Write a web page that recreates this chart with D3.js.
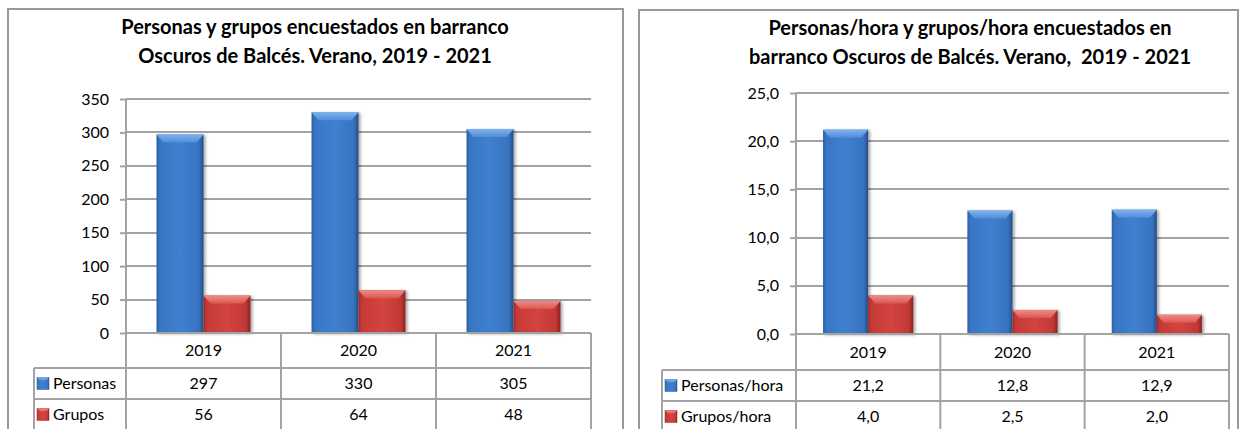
<!DOCTYPE html>
<html>
<head>
<meta charset="utf-8">
<script src="https://cdn.jsdelivr.net/npm/d3@7"></script>
<style>
  body { margin: 0; background: #fff; }
  svg { display: block; font-family: Lato, "Open Sans", sans-serif; }
</style>
</head>
<body>
<div id="chart"></div>
<script>
const years = ["2019", "2020", "2021"];
const personas = [297, 330, 305];
const grupos = [56, 64, 48];
const personasHora = [21.2, 12.8, 12.9];
const gruposHora = [4.0, 2.5, 2.0];
const ticksLeft = [0, 50, 100, 150, 200, 250, 300, 350];
const ticksRight = [0, 5, 10, 15, 20, 25];
const titleLeft = ["Personas y grupos encuestados en barranco", "Oscuros de Balcés. Verano, 2019 - 2021"];
const titleRight = ["Personas/hora y grupos/hora encuestados en", "barranco Oscuros de Balcés. Verano,  2019 - 2021"];
const namesLeft = ["Personas", "Grupos"];
const namesRight = ["Personas/hora", "Grupos/hora"];

const W = 1242, H = 429;
const gridColor = "#a3a3a3";

const svg = d3.select("#chart").append("svg")
  .attr("width", W)
  .attr("height", H);

const defs = svg.append("defs");

function barGradient(id, stops) {
  const g = defs.append("linearGradient").attr("id", id)
    .attr("x1", 0).attr("x2", 1).attr("y1", 0).attr("y2", 0);
  stops.forEach(s => g.append("stop").attr("offset", s[0]).attr("stop-color", s[1]));
}
function bevelGradient(id, c1, c2) {
  const g = defs.append("linearGradient").attr("id", id)
    .attr("x1", 0).attr("x2", 0).attr("y1", 0).attr("y2", 1);
  g.append("stop").attr("offset", 0).attr("stop-color", c1);
  g.append("stop").attr("offset", 1).attr("stop-color", c2);
}
barGradient("blueBar", [[0, "#2b5fa4"], [0.07, "#3876c2"], [0.5, "#3f80d0"], [0.9, "#3873bf"], [1, "#244d86"]]);
barGradient("redBar", [[0, "#9f2a28"], [0.07, "#c43a37"], [0.5, "#d44440"], [0.9, "#c23835"], [1, "#8c2222"]]);
bevelGradient("blueTop", "#7fb3ee", "#4f8dd8");
bevelGradient("redTop", "#ee8c86", "#dc5652");

const shadow = defs.append("filter").attr("id", "shadow")
  .attr("x", "-20%").attr("y", "-10%").attr("width", "150%").attr("height", "130%");
shadow.append("feDropShadow")
  .attr("dx", 2).attr("dy", 1).attr("stdDeviation", 1.5)
  .attr("flood-color", "#000").attr("flood-opacity", 0.35);

const seriesStyle = [
  { fill: "url(#blueBar)", top: "url(#blueTop)", edge: "#2b5fa4" },
  { fill: "url(#redBar)", top: "url(#redTop)", edge: "#9f2a28" }
];

function drawChart(cfg) {
  const g = svg.append("g");

  // frame
  g.append("rect")
    .attr("x", cfg.frame[0]).attr("y", cfg.frame[1])
    .attr("width", cfg.frame[2]).attr("height", cfg.frame[3])
    .attr("fill", "none").attr("stroke", "#999").attr("stroke-width", 2);

  // title
  const title = g.append("text")
    .attr("x", cfg.titleX).attr("y", cfg.titleY)
    .attr("text-anchor", "middle")
    .style("white-space", "pre")
    .style("font-weight", "bold").style("font-size", cfg.titleSize + "px").attr("fill", "#000");
  title.selectAll("tspan").data(cfg.title).enter().append("tspan")
    .attr("x", cfg.titleX).attr("dy", (d, i) => i == 0 ? 0 : 29)
    .text(d => d);

  const y = d3.scaleLinear().domain(cfg.yDomain).range([cfg.bottom, cfg.top]);
  const x0 = d3.scaleBand().domain(years).range([cfg.left, cfg.right]);
  const x1 = d3.scaleBand().domain([0, 1]).range([0, x0.bandwidth()]).paddingOuter(cfg.barPad);

  // gridlines + y axis
  const yAxis = d3.axisLeft(y).tickValues(cfg.ticks).tickSize(6).tickPadding(11)
    .tickFormat(cfg.fmt);
  const ax = g.append("g").attr("transform", `translate(${cfg.left},0)`).call(yAxis);
  ax.select(".domain").remove();
  ax.selectAll("line").attr("stroke", gridColor).attr("stroke-width", 2);
  ax.selectAll("text").style("font-size", "16px").style("font-family", "Lato").attr("fill", "#000");

  g.selectAll(".grid").data(cfg.ticks).enter().append("line")
    .attr("x1", cfg.left).attr("x2", cfg.right)
    .attr("y1", d => Math.round(y(d))).attr("y2", d => Math.round(y(d)))
    .attr("stroke", gridColor).attr("stroke-width", 2);

  // bars
  const rows = [cfg.s1, cfg.s2];
  rows.forEach((vals, si) => {
    const st = seriesStyle[si];
    const bars = g.append("g").selectAll("g").data(vals).enter().append("g")
      .attr("filter", "url(#shadow)");
    bars.append("rect")
      .attr("x", (d, i) => x0(years[i]) + x1(si))
      .attr("y", d => y(d))
      .attr("width", x1.bandwidth())
      .attr("height", d => cfg.bottom - y(d))
      .attr("fill", st.fill);
    bars.append("polygon")
      .attr("points", (d, i) => {
        const bx = x0(years[i]) + x1(si), bw = x1.bandwidth(), by = y(d);
        return [[bx, by], [bx + bw, by], [bx + bw - 7, by + 8], [bx + 7, by + 8]].join(" ");
      })
      .attr("fill", st.top);
  });

  // x axis line (0)
  g.append("line")
    .attr("x1", cfg.left).attr("x2", cfg.right)
    .attr("y1", cfg.bottom).attr("y2", cfg.bottom)
    .attr("stroke", gridColor).attr("stroke-width", 2);

  // data table
  const r1 = cfg.bottom + cfg.rowH[0];
  const r2 = r1 + cfg.rowH[1];
  const r3 = r2 + cfg.rowH[2];
  const lines = [
    [cfg.tableLeft, r1, cfg.right, r1],
    [cfg.tableLeft, r2, cfg.right, r2],
    [cfg.tableLeft, r3, cfg.right, r3],
    [cfg.tableLeft, r1, cfg.tableLeft, r3],
    [cfg.left, cfg.top, cfg.left, r3],
    [cfg.right, cfg.bottom, cfg.right, r3]
  ];
  years.forEach((yr, i) => {
    if (i > 0) lines.push([x0(yr), cfg.bottom, x0(yr), r3]);
  });
  g.selectAll(".tline").data(lines).enter().append("line")
    .attr("x1", d => d[0]).attr("y1", d => d[1])
    .attr("x2", d => d[2]).attr("y2", d => d[3])
    .attr("stroke", gridColor).attr("stroke-width", 2);

  const cellText = (txt, cx, cy) => g.append("text")
    .attr("x", cx).attr("y", cy).attr("dy", "0.35em")
    .attr("text-anchor", "middle")
    .style("font-size", "16px").attr("fill", "#000").text(txt);

  years.forEach((yr, i) => {
    const cx = x0(yr) + x0.bandwidth() / 2;
    cellText(yr, cx, (cfg.bottom + r1) / 2);
    cellText(cfg.fmt(cfg.s1[i]), cx, (r1 + r2) / 2);
    cellText(cfg.fmt(cfg.s2[i]), cx, (r2 + r3) / 2);
  });

  // legend keys in table
  [[r1, r2], [r2, r3]].forEach((r, si) => {
    const cy = (r[0] + r[1]) / 2;
    g.append("rect")
      .attr("x", cfg.tableLeft + 3).attr("y", cy - 6)
      .attr("width", 12).attr("height", 12)
      .attr("fill", seriesStyle[si].fill)
      .attr("stroke", seriesStyle[si].edge).attr("stroke-width", 0.5);
    g.append("polygon")
      .attr("points", [[cfg.tableLeft + 3, cy - 6], [cfg.tableLeft + 15, cy - 6],
        [cfg.tableLeft + 12, cy - 3], [cfg.tableLeft + 6, cy - 3]].join(" "))
      .attr("fill", seriesStyle[si].top);
    g.append("text")
      .attr("x", cfg.tableLeft + 19).attr("y", cy).attr("dy", "0.35em")
      .style("font-size", "16px").attr("fill", "#000")
      .text(cfg.names[si]);
  });
}

drawChart({
  frame: [8, 9, 615, 440],
  title: titleLeft, titleX: 315, titleY: 34, titleSize: 20,
  left: 126, right: 591, top: 99, bottom: 333,
  yDomain: [0, 350], ticks: ticksLeft, fmt: d3.format("d"),
  s1: personas, s2: grupos, names: namesLeft,
  tableLeft: 34, rowH: [35, 31, 31], barPad: 0.65
});

drawChart({
  frame: [639, 10, 599, 440],
  title: titleRight, titleX: 970, titleY: 35, titleSize: 20,
  left: 796, right: 1229, top: 93, bottom: 334,
  yDomain: [0, 25], ticks: ticksRight, fmt: d => d3.format(".1f")(d).replace(".", ","),
  s1: personasHora, s2: gruposHora, names: namesRight,
  tableLeft: 662, rowH: [36, 31, 31], barPad: 0.6
});
</script>
</body>
</html>
